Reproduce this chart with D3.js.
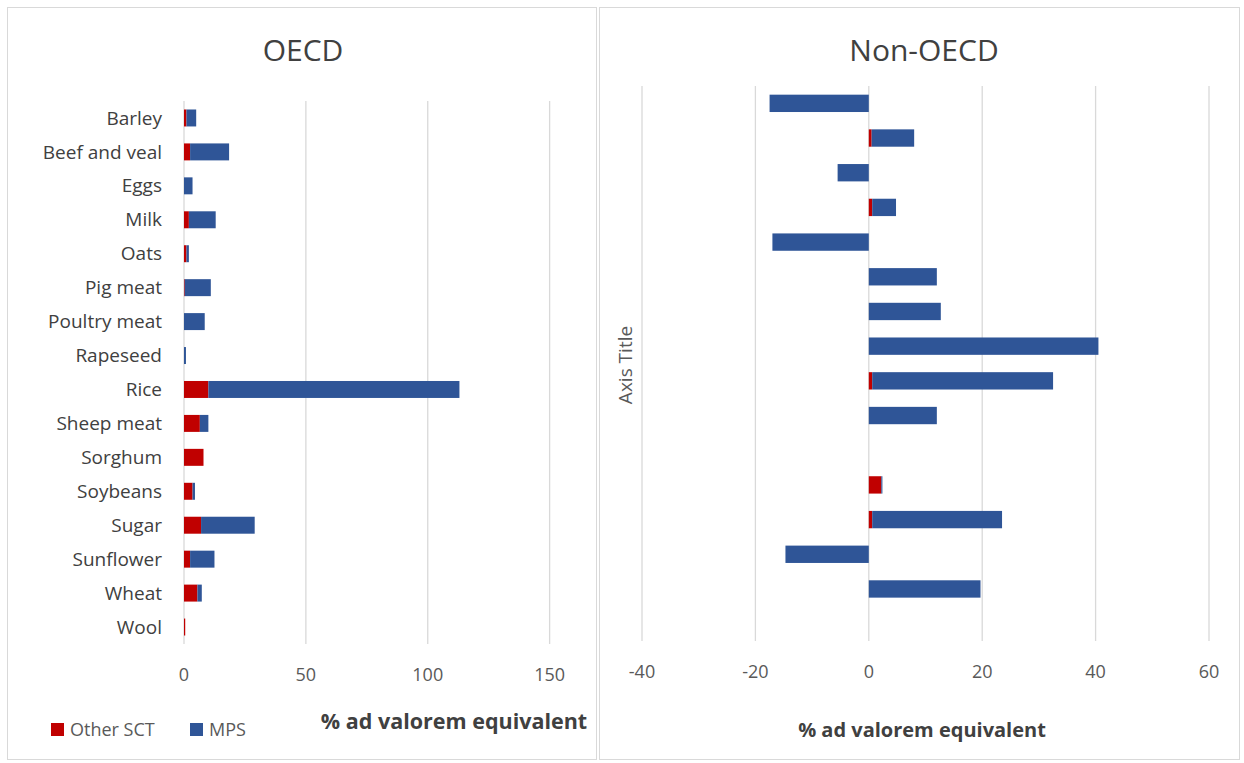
<!DOCTYPE html>
<html><head><meta charset="utf-8">
<script src="https://cdn.jsdelivr.net/npm/d3@7"></script>
<style>body{margin:0;background:#fff;font-family:"Open Sans",sans-serif}</style>
</head><body>
<script>
var categories = ['Barley','Beef and veal','Eggs','Milk','Oats','Pig meat','Poultry meat','Rapeseed','Rice','Sheep meat','Sorghum','Soybeans','Sugar','Sunflower','Wheat','Wool']
var oecdSct = [1, 2.5, 0, 2, 1, 0.3, 0, 0, 10, 6.5, 8, 3.5, 7, 2.5, 5.5, 0.5]
var oecdMps = [4, 16, 3.5, 11, 1, 10.7, 8.5, 0.8, 103, 3.5, 0, 1, 22, 10, 1.8, 0]
var nonSct = [0, 0.5, 0, 0.6, 0, 0, 0, 0, 0.6, 0, 0, 2.2, 0.6, 0, 0, 0]
var nonMps = [-17.5, 7.5, -5.5, 4.2, -17, 12, 12.7, 40.5, 31.9, 12, 0, 0.2, 22.9, -14.7, 19.7, 0]
var oecdTicks = [0, 50, 100, 150]
var nonTicks = [-40, -20, 0, 20, 40, 60]
var RED = '#c00000', BLUE = '#2f5597'

var svg = d3.select('body').append('svg').attr('width', 1244).attr('height', 763)
svg.append('rect').attr('x', 7.5).attr('y', 7.5).attr('width', 589).attr('height', 752)
  .attr('fill', 'none').attr('stroke', '#d9d9d9')
svg.append('rect').attr('x', 599.5).attr('y', 7.5).attr('width', 640).attr('height', 752)
  .attr('fill', 'none').attr('stroke', '#d9d9d9')

function panel(opt) {
  var x = d3.scaleLinear().domain(opt.domain).range(opt.xr)
  var y = d3.scaleBand().domain(categories).range(opt.yr).paddingInner(0.5).paddingOuter(0.25)
  var g = svg.append('g')
  g.selectAll('.grid').data(opt.ticks).enter().append('line')
    .attr('x1', d => x(d)).attr('x2', d => x(d)).attr('y1', opt.yr[0]).attr('y2', opt.yr[1])
    .attr('stroke', '#d9d9d9').attr('stroke-width', 1.3)
  g.selectAll('.tl').data(opt.ticks).enter().append('text')
    .attr('x', d => x(d)).attr('y', opt.yr[1] + 37).attr('text-anchor', 'middle')
    .attr('font-size', 18).attr('fill', '#595959').text(d => d)
  categories.forEach(function(c, i) {
    var s = opt.sct[i], m = opt.mps[i]
    var segs = []
    // stacked: positive values stack right from 0, negatives left
    var pos = 0, neg = 0
    ;[[s, RED], [m, BLUE]].forEach(function(p) {
      if (p[0] >= 0) { segs.push([pos, pos + p[0], p[1]]); pos += p[0] }
      else { segs.push([neg + p[0], neg, p[1]]); neg += p[0] }
    })
    segs.forEach(function(sg) {
      if (sg[1] - sg[0] <= 0) return
      g.append('rect').attr('x', x(sg[0])).attr('width', x(sg[1]) - x(sg[0]))
        .attr('y', y(c)).attr('height', y.bandwidth()).attr('fill', sg[2])
    })
    if (opt.labels) {
      g.append('text').attr('x', opt.xr[0] - 22).attr('y', y(c) + y.bandwidth() / 2)
        .attr('dy', '0.35em').attr('text-anchor', 'end').attr('font-size', 19)
        .attr('fill', '#404040').text(c)
    }
  })
  g.append('text').attr('x', opt.title[0]).attr('y', 61).attr('text-anchor', 'middle')
    .attr('font-size', 30).attr('fill', '#404040').text(opt.title[1])
  g.append('text').attr('x', opt.axis[0]).attr('y', opt.axis[1]).attr('text-anchor', 'middle')
    .attr('font-size', opt.axis[2]).attr('font-weight', 'bold').attr('fill', '#404040')
    .text('% ad valorem equivalent')
}

panel({domain: [0, 160], xr: [184, 574], yr: [101, 644], ticks: oecdTicks, sct: oecdSct, mps: oecdMps,
  labels: true, title: [303, 'OECD'], axis: [454, 729, 21.5]})
panel({domain: [-40, 60], xr: [642, 1209], yr: [86, 641], ticks: nonTicks, sct: nonSct, mps: nonMps,
  labels: false, title: [924, 'Non-OECD'], axis: [922, 737, 20]})

svg.append('text').attr('transform', 'translate(632,365) rotate(-90)').attr('text-anchor', 'middle')
  .attr('font-size', 19).attr('fill', '#595959').text('Axis Title')

var leg = svg.append('g')
;[['Other SCT', RED, 51], ['MPS', BLUE, 190]].forEach(function(l) {
  leg.append('rect').attr('x', l[2]).attr('y', 723).attr('width', 13).attr('height', 13).attr('fill', l[1])
  leg.append('text').attr('x', l[2] + 19).attr('y', 736).attr('font-size', 18).attr('fill', '#595959').text(l[0])
})
</script>
</body></html>
